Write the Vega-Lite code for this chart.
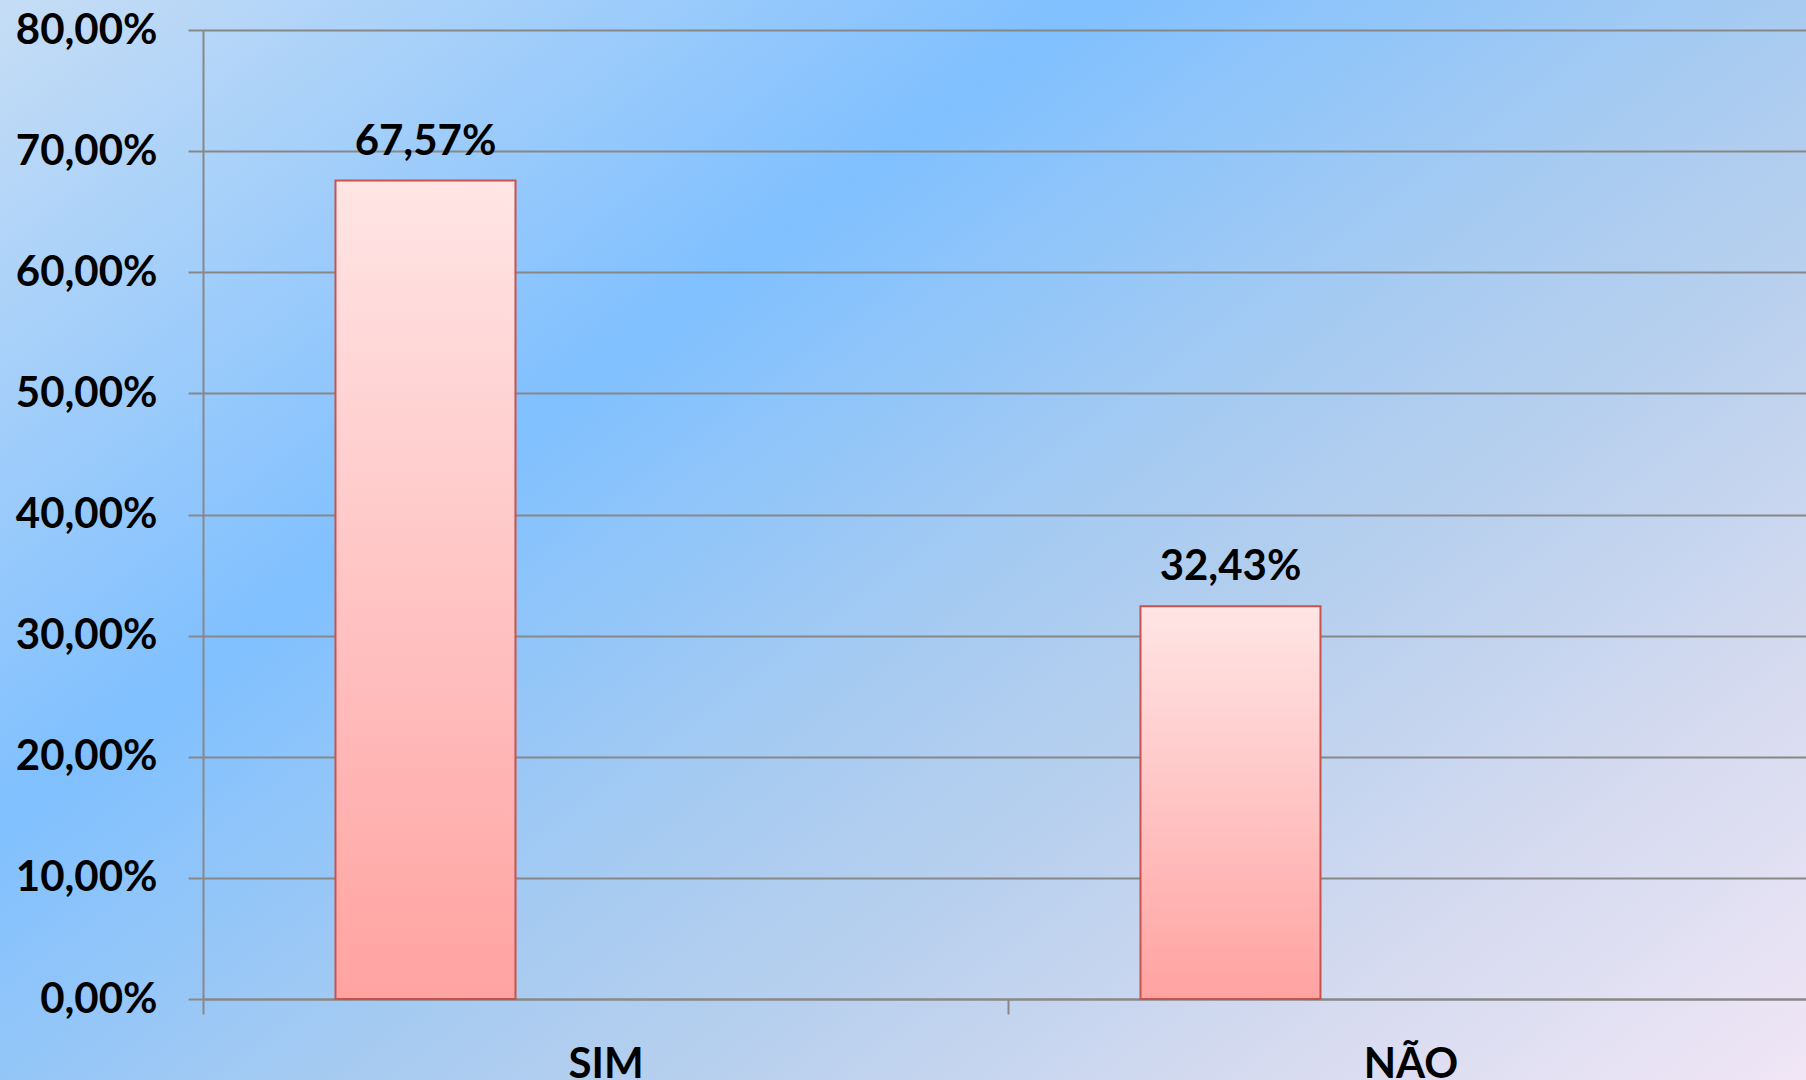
{
  "$schema": "https://vega.github.io/schema/vega-lite/v6.json",
  "width": 1806,
  "height": 1080,
  "autosize": {"type": "none"},
  "padding": 0,
  "background": "#a8cdf5",
  "config": {
    "locale": {"number": {"decimal": ",", "thousands": ".", "grouping": [3], "currency": ["R$", ""]}},
    "font": "Lato",
    "view": {
      "stroke": null,
      "fill": {
        "gradient": "linear",
        "x1": 0, "y1": 0, "x2": 1.099, "y2": 0.876,
        "stops": [
          {"offset": 0, "color": "#c6ddf5"},
          {"offset": 0.336, "color": "#80c0ff"},
          {"offset": 0.40, "color": "#8cc4fb"},
          {"offset": 0.55, "color": "#a7cbf1"},
          {"offset": 0.664, "color": "#b8d0ee"},
          {"offset": 0.83, "color": "#d6dbf0"},
          {"offset": 1, "color": "#f0e6f6"}
        ]
      }
    }
  },
  "data": {
    "values": [
      {"resposta": "SIM", "serie": "Série 1", "valor": 0.6757},
      {"resposta": "NÃO", "serie": "Série 1", "valor": 0.3243}
    ]
  },
  "encoding": {
    "x": {
      "field": "resposta",
      "type": "nominal",
      "sort": ["SIM", "NÃO"],
      "scale": {"range": [203, 1813], "paddingInner": 0, "paddingOuter": 0},
      "axis": {
        "title": null,
        "orient": "bottom",
        "offset": -81,
        "labelAngle": 0,
        "labelFont": "Lato",
        "labelFontWeight": "bold",
        "labelFontSize": 42,
        "labelColor": "#000000",
        "labelPadding": 30,
        "domainColor": "#888888",
        "domainWidth": 2,
        "tickColor": "#888888",
        "tickWidth": 2,
        "tickSize": 15,
        "tickBand": "extent",
        "grid": false
      }
    },
    "xOffset": {
      "field": "serie",
      "type": "nominal",
      "scale": {"domain": ["Série 1", "Série 2", "Série 3"], "paddingInner": 0, "paddingOuter": 0.736}
    },
    "y": {
      "field": "valor",
      "type": "quantitative",
      "scale": {"domain": [0, 0.8], "range": [999, 30], "nice": false, "zero": true},
      "axis": {
        "title": null,
        "offset": -203,
        "values": [0, 0.1, 0.2, 0.3, 0.4, 0.5, 0.6, 0.7, 0.8],
        "format": ".2%",
        "labelFont": "Lato",
        "labelFontWeight": "bold",
        "labelFontSize": 42,
        "labelColor": "#000000",
        "labelPadding": 31,
        "grid": true,
        "gridColor": "#888888",
        "gridWidth": 2,
        "domainColor": "#888888",
        "domainWidth": 2,
        "tickColor": "#888888",
        "tickWidth": 2,
        "tickSize": 15
      }
    }
  },
  "layer": [
    {
      "mark": {
        "type": "bar",
        "stroke": "#c9524e",
        "strokeWidth": 2,
        "fill": {
          "gradient": "linear",
          "x1": 0, "y1": 0, "x2": 0, "y2": 1,
          "stops": [
            {"offset": 0, "color": "#ffe5e5"},
            {"offset": 0.5, "color": "#ffc4c4"},
            {"offset": 1, "color": "#ffa3a1"}
          ]
        }
      }
    },
    {
      "mark": {
        "type": "text",
        "dy": -26,
        "baseline": "alphabetic",
        "font": "Lato",
        "fontWeight": "bold",
        "fontSize": 42,
        "color": "#000000"
      },
      "encoding": {
        "text": {"field": "valor", "type": "quantitative", "format": ".2%"}
      }
    }
  ]
}
